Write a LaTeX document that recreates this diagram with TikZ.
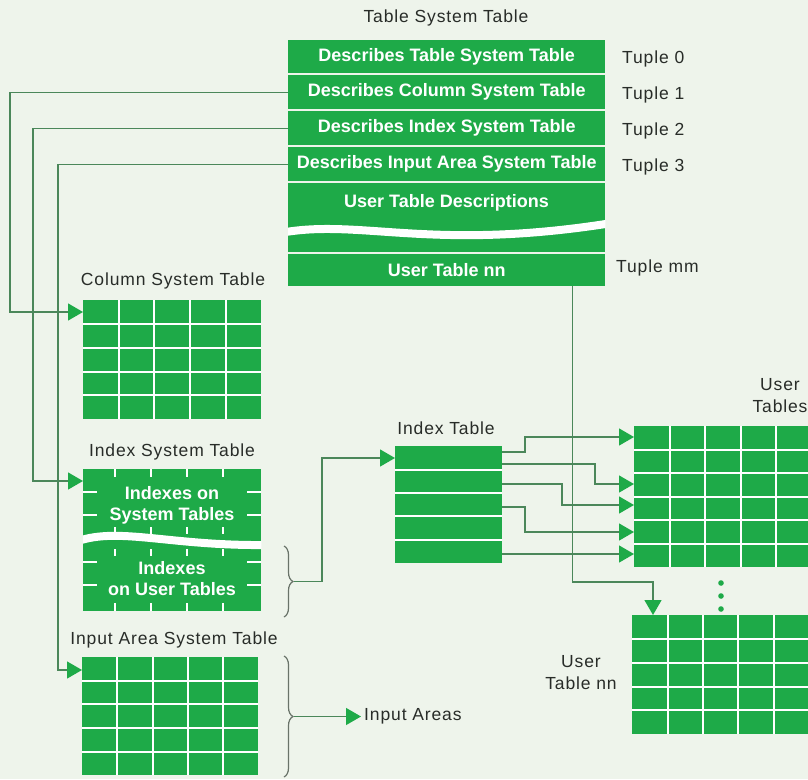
\documentclass[tikz,border=0pt]{standalone}
\usepackage{fontspec}
\setmainfont{Liberation Sans}
\newfontfamily\labfont[LetterSpace=5]{Liberation Sans}
\usetikzlibrary{arrows.meta,calc,decorations.pathreplacing}
\definecolor{tgreen}{RGB}{30,170,72}
\definecolor{bgc}{RGB}{238,244,235}
\definecolor{linec}{RGB}{75,135,90}
\definecolor{txt}{RGB}{40,44,40}
\definecolor{bracec}{RGB}{105,115,105}
\tikzset{
  gridtab/.style 2 args={draw=none, fill=tgreen, inner sep=0pt, anchor=north west,
    path picture={
      \coordinate (pa) at (path picture bounding box.north west);
      \coordinate (pb) at (path picture bounding box.south east);
      \ifnum#1>1
        \pgfmathtruncatemacro{\ncm}{#1-1}
        \foreach \k in {1,...,\ncm}{
          \draw[white, line width=2pt] ($(pa)!{\k/#1}!(pa-|pb)$) -- ($(pa|-pb)!{\k/#1}!(pb)$);
        }
      \fi
      \ifnum#2>1
        \pgfmathtruncatemacro{\nrm}{#2-1}
        \foreach \k in {1,...,\nrm}{
          \draw[white, line width=2pt] ($(pa)!{\k/#2}!(pa|-pb)$) -- ($(pa-|pb)!{\k/#2}!(pb)$);
        }
      \fi
    }},
  tstrow/.style={fill=tgreen, minimum width=317pt, inner sep=0pt, anchor=north west,
    text=white, font=\fontsize{18}{20}\selectfont\bfseries},
  lab/.style={text=txt, font=\labfont\fontsize{17.5}{22}\selectfont, inner sep=0pt},
  wtxt/.style={text=white, font=\fontsize{18}{21}\selectfont\bfseries, align=center, inner sep=0pt},
  conn/.style={draw=linec, line width=1.3pt},
  arr/.style={-{Triangle[length=15pt,width=17pt,color=tgreen]}},
  tickmark/.style={draw=white, line width=1.6pt},
  bracedec/.style={draw=bracec, line width=1.2pt, decorate, decoration={brace, amplitude=9pt}},
}
\begin{document}
\begin{tikzpicture}[x=1pt,y=-1pt]
\useasboundingbox (0,0) rectangle (808,779);
\fill[bgc] (0,0) rectangle (808,779);

% Table System Table
\node[lab] (title) at (446,18) {Table System Table};
\node[tstrow, minimum height=33pt] (r1) at (288,40) {Describes Table System Table};
\node[tstrow, minimum height=34pt] (r2) at (288,75) {Describes Column System Table};
\node[tstrow, minimum height=34pt] (r3) at (288,111) {Describes Index System Table};
\node[tstrow, minimum height=34pt] (r4) at (288,147) {Describes Input Area System Table};
\node[tstrow, minimum height=69pt] (r5) at (288,183) {};
\node[tstrow, minimum height=32pt] (r6) at (288,254) {User Table nn};
\node[wtxt] (r5t) at (446.5,203) {User Table Descriptions};
\begin{scope}
  \clip (r5.north west) rectangle (r5.south east);
  \draw[white, line width=8pt] (280,233) .. controls (360,218) and (430,252) .. (612,223);
\end{scope}

\node[lab, anchor=west] (t0) at (622,59) {Tuple 0};
\node[lab, anchor=west] (t1) at (622,95) {Tuple 1};
\node[lab, anchor=west] (t2) at (622,131) {Tuple 2};
\node[lab, anchor=west] (t3) at (622,167) {Tuple 3};
\node[lab, anchor=west] (tmm) at (616,268) {Tuple mm};

% Column System Table
\node[lab] (cstl) at (173,281) {Column System Table};
\node[gridtab={5}{5}, minimum width=178pt, minimum height=119pt] (cst) at (83,300) {};

% Index System Table
\node[lab] (istl) at (172,452) {Index System Table};
\node[fill=tgreen, inner sep=0pt, anchor=north west, minimum width=178pt, minimum height=142pt] (ist) at (83,469) {};
\begin{scope}
  \clip (ist.north west) rectangle (ist.south east);
  \draw[white, line width=8pt] (78,541) .. controls (120,527) and (170,546) .. (266,545);
\end{scope}
\foreach \x in {115,151,187,223}{
  \draw[tickmark] (\x,469) -- (\x,477);
  \draw[tickmark] (\x,527) -- (\x,534);
  \draw[tickmark] (\x,549) -- (\x,556);
  \draw[tickmark] (\x,603) -- (\x,611);
}
\foreach \y in {492,515,562,585}{
  \draw[tickmark] (83,\y) -- (97,\y);
  \draw[tickmark] (247,\y) -- (261,\y);
}
\node[wtxt] (istt1) at (172,505) {Indexes on\\System Tables};
\node[wtxt] (istt2) at (172,579) {Indexes\\on User Tables};

% Input Area System Table
\node[lab] (iastl) at (174,640) {Input Area System Table};
\node[gridtab={5}{5}, minimum width=176pt, minimum height=118pt] (iast) at (82,657) {};

% Index Table
\node[lab] (itl) at (446,428) {Index Table};
\node[gridtab={1}{5}, minimum width=107pt, minimum height=117pt] (it) at (395,446) {};

% User Tables
\node[lab, align=center] (utl) at (780,396) {User\\Tables};
\node[gridtab={6}{6}, minimum width=213pt, minimum height=141pt] (ut) at (634,426) {};
\node[lab, align=center] (utnl) at (581,673) {User\\Table nn};
\node[gridtab={6}{5}, minimum width=212pt, minimum height=119pt] (utn) at (632,615) {};
\foreach \y in {583,596,609}{\fill[tgreen] (721,\y) circle (2.8pt);}

% connectors from Table System Table
\draw[conn, arr] (r2.west) -- ++(-278,0) |- ([yshift=-12pt]cst.north west);
\draw[conn, arr] (r3.west) -- ++(-255,0) |- ([yshift=-12pt]ist.north west);
\draw[conn, arr] (r4.west) -- ++(-230,0) |- ([yshift=-13pt]iast.north west);

% braces
\draw[bracedec] (284,546) -- (284,617);
\coordinate (ibt) at (294,581.5);
\draw[conn, arr] (ibt) -- (322,581.5) |- ([yshift=-12pt]it.north west);

\draw[bracedec] (284,656) -- (284,777);
\coordinate (iab) at (294,716.5);
\node[lab, anchor=west] (ia) at (364,716.5) {Input Areas};
\draw[conn, arr] (iab) -- ([xshift=-3pt]ia.west);

% Index Table to User Tables
\draw[conn, arr] ([yshift=-6pt]it.north east) -| (525,437) -- ([yshift=-11pt]ut.north west);
\draw[conn, arr] ([yshift=-18pt]it.north east) -| (595,484) -- ([yshift=-58pt]ut.north west);
\draw[conn, arr] ([yshift=-38pt]it.north east) -| (562,505) -- ([yshift=-79pt]ut.north west);
\draw[conn, arr] ([yshift=-61pt]it.north east) -| (525,532) -- ([yshift=-106pt]ut.north west);
\draw[conn, arr] ([yshift=-108pt]it.north east) -- ([yshift=-128pt]ut.north west);

% User Table nn
\draw[conn, arr] ([xshift=125.5pt]r6.south) |- (653,582) -- ([xshift=21pt]utn.north west);
\end{tikzpicture}
\end{document}
